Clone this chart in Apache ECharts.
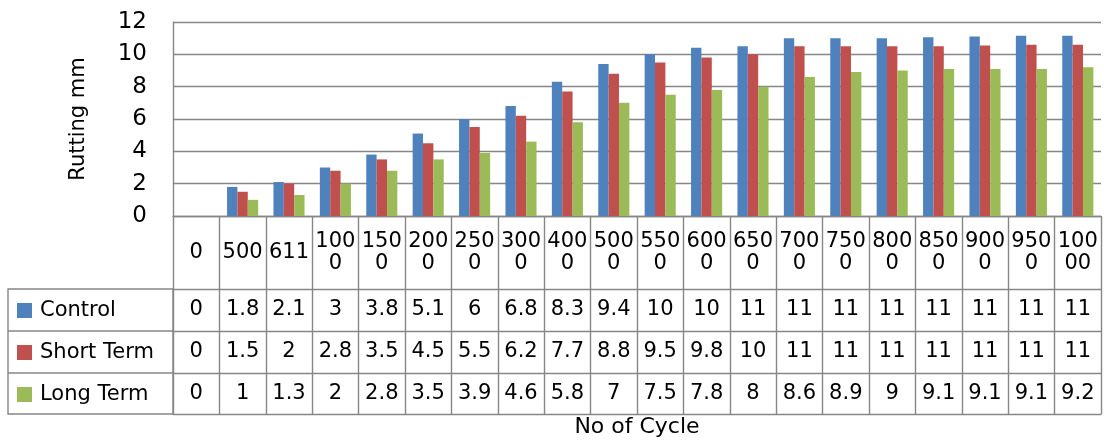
<!DOCTYPE html>
<html>
<head>
<meta charset="utf-8">
<script src="https://cdn.jsdelivr.net/npm/echarts@6/dist/echarts.min.js"></script>
<style>html,body{margin:0;padding:0;background:#fff}#c{width:1104px;height:441px}</style>
</head>
<body>
<div id="c"></div>
<script>
var categories = ['0','500','611','1000','1500','2000','2500','3000','4000','5000','5500','6000','6500','7000','7500','8000','8500','9000','9500','10000'];
var seriesNames = ['Control','Short Term','Long Term'];
var control = [0,1.8,2.1,3,3.8,5.1,6,6.8,8.3,9.4,10.0,10.4,10.5,11.0,11.0,11.0,11.05,11.1,11.15,11.15];
var shortTerm = [0,1.5,2,2.8,3.5,4.5,5.5,6.2,7.7,8.8,9.5,9.8,10.0,10.5,10.5,10.5,10.5,10.55,10.6,10.6];
var longTerm = [0,1,1.3,2,2.8,3.5,3.9,4.6,5.8,7,7.5,7.8,8,8.6,8.9,9,9.1,9.1,9.1,9.2];
var yTicks = [0,2,4,6,8,10,12];
var colors = ['#4F81BD','#C0504D','#9BBB59'];

var FONT = 'DejaVu Sans';
var LINE = '#868686';
var LW = 1.4;
var TFS = 21;

function fmtVal(v){ return String(Number(v.toPrecision(2))); }
function fmtCat(s){ return s.length > 3 ? s.slice(0,3) + '\n' + s.slice(3) : s; }

function rowAxis(values, offset, tickLen, margin){
  return {
    type:'category', data:categories, gridIndex:0, position:'bottom', offset:offset,
    boundaryGap:true,
    axisLine:{show:true, lineStyle:{color:LINE, width:LW}},
    axisTick:{show:tickLen>0, length:tickLen, interval:0, lineStyle:{color:LINE, width:LW}},
    axisLabel:{show:!!values, interval:0, margin:margin, verticalAlign:'middle',
      fontFamily:FONT, fontSize:TFS, color:'#000',
      formatter:function(v, i){ return values ? fmtVal(values[i]) : ''; }},
    splitLine:{show:false}
  };
}

var chart = echarts.init(document.getElementById('c'), null, {renderer:'canvas'});
var headerAxis = {
  type:'category', data:categories, gridIndex:0, position:'bottom', offset:0,
  boundaryGap:true,
  axisLine:{show:true, lineStyle:{color:LINE, width:LW}},
  axisTick:{show:true, length:73, interval:0, lineStyle:{color:LINE, width:LW}},
  axisLabel:{interval:0, margin:36.5, verticalAlign:'middle', lineHeight:22,
    fontFamily:FONT, fontSize:TFS, color:'#000', formatter:fmtCat},
  splitLine:{show:false}
};
var bottomAxis = rowAxis(null, 198, 0, 0);
bottomAxis.name = 'No of Cycle';
bottomAxis.nameLocation = 'middle';
bottomAxis.nameGap = 2;
bottomAxis.nameTextStyle = {fontFamily:FONT, fontSize:22, color:'#000', verticalAlign:'top'};

chart.setOption({
  animation:false,
  color:colors,
  textStyle:{fontFamily:FONT},
  grid:{left:173, right:3, top:22, bottom:225, containLabel:false},
  legend:{
    orient:'vertical', left:17, top:300, padding:0, itemWidth:15, itemHeight:15, itemGap:21,
    icon:'rect', selectedMode:false,
    textStyle:{fontFamily:FONT, fontSize:TFS, color:'#000', lineHeight:21, padding:[0,0,0,3]},
    data:seriesNames
  },
  xAxis:[
    headerAxis,
    rowAxis(control, 73, 42, 21),
    rowAxis(shortTerm, 115, 42, 21),
    rowAxis(longTerm, 157, 41, 20.5),
    bottomAxis
  ],
  yAxis:{
    type:'value', min:yTicks[0], max:yTicks[yTicks.length-1], interval:2,
    name:'Rutting mm', nameLocation:'middle', nameRotate:90, nameGap:84,
    nameTextStyle:{fontFamily:FONT, fontSize:21, color:'#000'},
    axisLine:{show:true, lineStyle:{color:LINE, width:LW}},
    axisTick:{show:false},
    axisLabel:{margin:26, fontFamily:FONT, fontSize:23, color:'#000'},
    splitLine:{show:true, lineStyle:{color:LINE, width:LW}}
  },
  graphic:[
    {type:'rect', shape:{x:8, y:289, width:165, height:125}, style:{fill:'none', stroke:LINE, lineWidth:LW}, silent:true, z:-1},
    {type:'line', shape:{x1:8, y1:331, x2:173, y2:331}, style:{stroke:LINE, lineWidth:LW}, silent:true},
    {type:'line', shape:{x1:8, y1:373, x2:173, y2:373}, style:{stroke:LINE, lineWidth:LW}, silent:true}
  ],
  series:[
    {name:seriesNames[0], type:'bar', data:control, xAxisIndex:0, barGap:'0%', barCategoryGap:'33%', itemStyle:{color:colors[0]}},
    {name:seriesNames[1], type:'bar', data:shortTerm, xAxisIndex:0, barGap:'0%', barCategoryGap:'33%', itemStyle:{color:colors[1]}},
    {name:seriesNames[2], type:'bar', data:longTerm, xAxisIndex:0, barGap:'0%', barCategoryGap:'33%', itemStyle:{color:colors[2]}}
  ]
});
</script>
</body>
</html>
